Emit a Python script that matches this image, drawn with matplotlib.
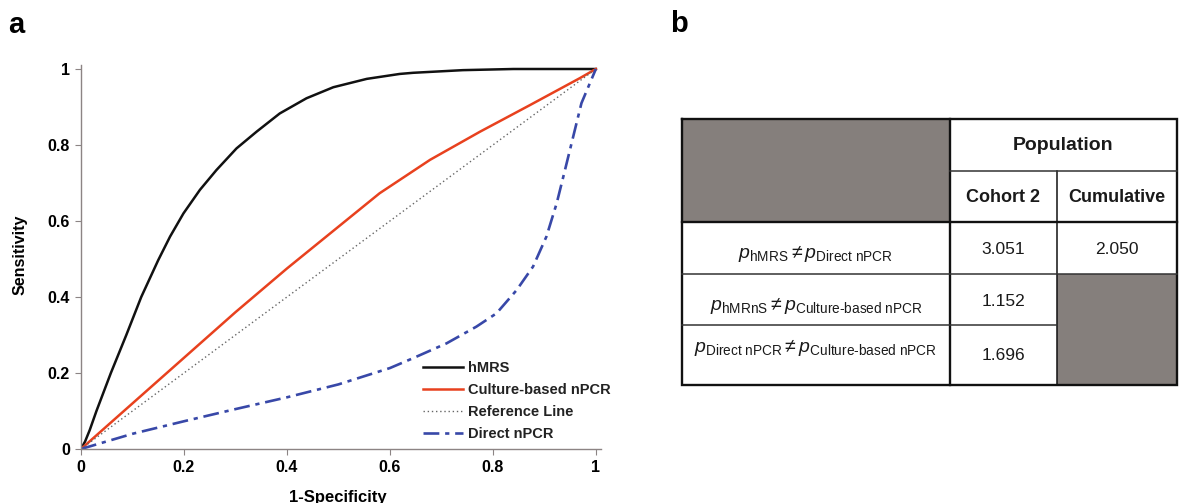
import matplotlib
matplotlib.use("Agg")
import matplotlib.pyplot as plt
from matplotlib.patches import Rectangle

plt.rcParams['font.family'] = ['Liberation Sans', 'DejaVu Sans']
plt.rcParams['mathtext.fontset'] = 'custom'
plt.rcParams['mathtext.rm'] = 'Liberation Sans'
plt.rcParams['mathtext.it'] = 'Liberation Sans:italic'
plt.rcParams['mathtext.bf'] = 'Liberation Sans:bold'

# ROC curves (1-specificity, sensitivity)
hmrs_x = [0, 0.008, 0.017, 0.030, 0.044, 0.058, 0.088, 0.117, 0.150, 0.173, 0.199, 0.231,
          0.263, 0.302, 0.341, 0.386, 0.438, 0.490, 0.555, 0.619, 0.645, 0.742, 0.84, 1.0]
hmrs_y = [0, 0.02, 0.05, 0.10, 0.15, 0.20, 0.30, 0.40, 0.497, 0.559, 0.620, 0.682,
          0.734, 0.791, 0.835, 0.883, 0.923, 0.952, 0.974, 0.987, 0.990, 0.997, 1.0, 1.0]

culture_x = [0, 0.1, 0.2, 0.3, 0.4, 0.5, 0.58, 0.678, 0.775, 0.872, 0.969, 1.0]
culture_y = [0, 0.12, 0.24, 0.36, 0.475, 0.585, 0.673, 0.761, 0.835, 0.905, 0.976, 1.0]

ref_x = [0, 1]
ref_y = [0, 1]

direct_x = [0, 0.05, 0.1, 0.2, 0.3, 0.4, 0.5, 0.6, 0.645, 0.71, 0.768, 0.807, 0.846,
            0.878, 0.904, 0.924, 0.94, 0.956, 0.972, 1.0]
direct_y = [0, 0.02, 0.04, 0.073, 0.105, 0.136, 0.17, 0.213, 0.239, 0.278, 0.322, 0.357, 0.418,
            0.48, 0.559, 0.647, 0.734, 0.822, 0.91, 1.0]

ticks = [0, 0.2, 0.4, 0.6, 0.8, 1]
tick_labels = ['0', '0.2', '0.4', '0.6', '0.8', '1']

# table b
header_top = 'Population'
header_cols = ['Cohort 2', 'Cumulative']
row_labels = [r'$p_{\mathrm{hMRS}}\neq p_{\mathrm{Direct\ nPCR}}$',
              r'$p_{\mathrm{hMRnS}}\neq p_{\mathrm{Culture\text{-}based\ nPCR}}$',
              r'$p_{\mathrm{Direct\ nPCR}}\neq p_{\mathrm{Culture\text{-}based\ nPCR}}$']
cohort2_vals = ['3.051', '1.152', '1.696']
cumulative_vals = ['2.050']

W, H = 1179, 503
fig = plt.figure(figsize=(W / 100, H / 100), dpi=100)

# --- panel a: ROC ---
ax = fig.add_axes([81 / W, 54 / H, 520 / W, 383.8 / H])
ax.plot(hmrs_x, hmrs_y, color='#111111', lw=1.8, label='hMRS')
ax.plot(culture_x, culture_y, color='#e8411e', lw=1.8, label='Culture-based nPCR')
ax.plot(ref_x, ref_y, color='#666666', lw=1.0, linestyle=(0, (1, 2)), label='Reference Line')
ax.plot(direct_x, direct_y, color='#3848a8', lw=1.9, linestyle=(0, (6, 2.2, 1.6, 2.2)),
        label='Direct nPCR')

ax.set_xlim(0, 1.01)
ax.set_ylim(0, 1.01)
ax.set_xticks(ticks)
ax.set_xticklabels(tick_labels)
ax.set_yticks(ticks)
ax.set_yticklabels(tick_labels)
for s in ['top', 'right']:
    ax.spines[s].set_visible(False)
for s in ['left', 'bottom']:
    ax.spines[s].set_color('#8c8484')
    ax.spines[s].set_linewidth(1.0)
ax.tick_params(length=4, width=0.8, color='#8c8484', labelsize=11.5, pad=4)
for lab in ax.get_xticklabels() + ax.get_yticklabels():
    lab.set_fontweight('bold')

leg = ax.legend(loc='upper left', bbox_to_anchor=(0.658, 0.23), frameon=False,
                borderpad=0, borderaxespad=0, handlelength=2.7, handletextpad=0.4,
                labelspacing=0.55, prop={'weight': 'bold', 'size': 10.5})
for t in leg.get_texts():
    t.set_color('#222222')

fig.text(20 / W, 1 - 255 / H, 'Sensitivity', rotation=90, ha='center', va='center',
         fontsize=11.5, fontweight='bold')
fig.text(338 / W, 1 - 502 / H, '1-Specificity', ha='center', va='baseline',
         fontsize=12, fontweight='bold')

fig.text(8 / W, 1 - 33 / H, 'a', fontsize=21, fontweight='bold', va='baseline')
fig.text(670 / W, 1 - 32 / H, 'b', fontsize=21, fontweight='bold', va='baseline')

# --- panel b: table ---
col_edges = [0, 268, 375, 495]
row_edges = [0, 52, 103, 155, 206, 266]
tax = fig.add_axes([682 / W, (H - 385) / H, 495 / W, 266 / H])
tax.set_xlim(col_edges[0], col_edges[-1])
tax.set_ylim(row_edges[-1], row_edges[0])
tax.axis('off')

grey = '#857f7c'
tax.add_patch(Rectangle((col_edges[0], row_edges[0]), col_edges[1] - col_edges[0],
                        row_edges[2] - row_edges[0], facecolor=grey, edgecolor='none'))
tax.add_patch(Rectangle((col_edges[2], row_edges[3]), col_edges[3] - col_edges[2],
                        row_edges[5] - row_edges[3], facecolor=grey, edgecolor='none'))

thick, thin = 1.7, 1.1
k = '#111111'
# outer border
tax.plot([col_edges[0], col_edges[3], col_edges[3], col_edges[0], col_edges[0]],
         [row_edges[0], row_edges[0], row_edges[5], row_edges[5], row_edges[0]],
         color=k, lw=thick, clip_on=False, solid_joinstyle='miter')
tax.plot([col_edges[1]] * 2, [row_edges[0], row_edges[5]], color=k, lw=thick, clip_on=False)
tax.plot([col_edges[2]] * 2, [row_edges[1], row_edges[5]], color=k, lw=thin, clip_on=False)
tax.plot([col_edges[1], col_edges[3]], [row_edges[1]] * 2, color='#333333', lw=thin, clip_on=False)
tax.plot([col_edges[0], col_edges[3]], [row_edges[2]] * 2, color=k, lw=thick, clip_on=False)
tax.plot([col_edges[0], col_edges[3]], [row_edges[3]] * 2, color='#333333', lw=thin, clip_on=False)
tax.plot([col_edges[0], col_edges[2]], [row_edges[4]] * 2, color='#333333', lw=thin, clip_on=False)

cx = [(col_edges[i] + col_edges[i + 1]) / 2 for i in range(3)]
tax.text((col_edges[1] + col_edges[3]) / 2, 27, header_top, ha='center', va='center',
         fontsize=14, fontweight='bold', color='#1a1a1a')
for i, h in enumerate(header_cols):
    tax.text(cx[i + 1], 78, h, ha='center', va='center', fontsize=13, fontweight='bold',
             color='#1a1a1a')

label_base = [139, 191, 233]
val_y = [130, 182, 237]
for i, lab in enumerate(row_labels):
    tax.text(cx[0], label_base[i], lab, ha='center', va='baseline', fontsize=14,
             color='#1a1a1a')
    tax.text(cx[1], val_y[i], cohort2_vals[i], ha='center', va='center', fontsize=12.5,
             color='#1a1a1a')
for i, v in enumerate(cumulative_vals):
    tax.text(cx[2], val_y[i], v, ha='center', va='center', fontsize=12.5, color='#1a1a1a')

fig.savefig('out.png', dpi=100)
